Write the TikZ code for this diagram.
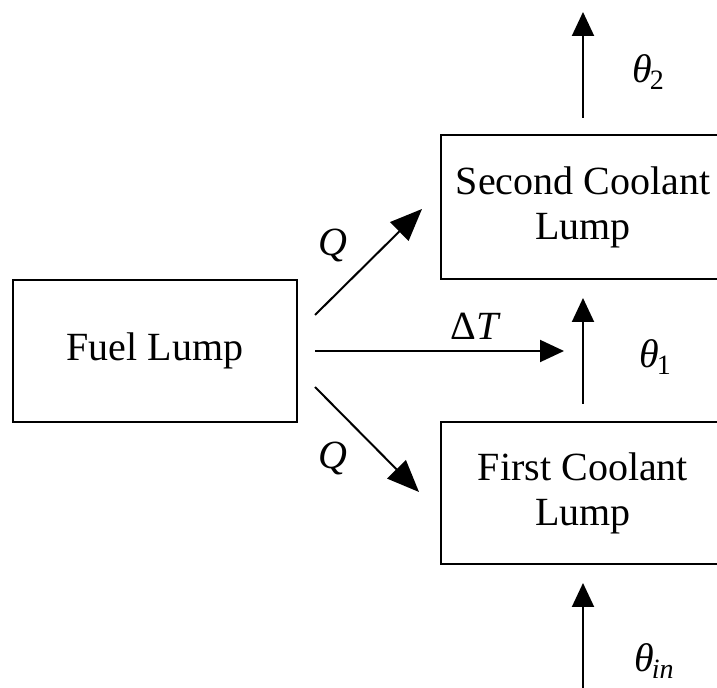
\documentclass[tikz,border=0pt]{standalone}
\usepackage{fontspec}
\setmainfont{Liberation Serif}
\usetikzlibrary{arrows.meta}
\tikzset{
  lump/.style={draw, line width=1pt, rectangle, inner sep=0pt, align=center,
    font=\fontsize{20}{22.5}\selectfont},
  lbl/.style={inner sep=0pt, font=\fontsize{20}{22.5}\selectfont},
  flow/.style={line width=1pt, -{Triangle[length=12pt,width=11pt]}},
  heat/.style={line width=1pt, -{Triangle[length=16pt,width=13pt]}},
}
\newcommand{\sth}{\textit{θ}}
\begin{document}
\begin{tikzpicture}[x=0.5pt,y=-0.5pt]
\useasboundingbox (0,0) rectangle (717,688);
\clip (0,0) rectangle (717,688);
\node[lump, minimum width=142pt, minimum height=71pt] (fuel) at (155,351) {Fuel Lump};
\node[lump, minimum width=142pt, minimum height=72pt] (second) at (583,207) {Second Coolant\\Lump};
\node[lump, minimum width=142pt, minimum height=71pt] (first) at (583,493) {First Coolant\\Lump};
% coordinates
\coordinate (upS) at (315,315);
\coordinate (upE) at (422,209);
\coordinate (dnS) at (315,387);
\coordinate (dnE) at (419,492);
\coordinate (hS) at (315,351);
\coordinate (hE) at (564,351);
\coordinate (topS) at (583,118);
\coordinate (topE) at (583,12);
\coordinate (midS) at (583,404);
\coordinate (midE) at (583,298);
\coordinate (botS) at (583,690);
\coordinate (botE) at (583,583);
\draw[heat] (upS) -- (upE);
\draw[heat] (dnS) -- (dnE);
\draw[flow] (hS) -- (hE);
\draw[flow] (topS) -- (topE);
\draw[flow] (midS) -- (midE);
\draw[flow] (botS) -- (botE);
% labels
\node[lbl] (q1) at (333,246) {\textit{Q}};
\node[lbl] (q2) at (333,459) {\textit{Q}};
\node[lbl] (dt) at (476,326) {Δ\textit{T}};
\node[lbl] (t2) at (648,72) {\sth\kern-1pt\raisebox{-0.35ex}{\fontsize{14}{16}\selectfont 2}};
\node[lbl] (t1) at (655,357) {\sth\kern-1pt\raisebox{-0.35ex}{\fontsize{14}{16}\selectfont 1}};
\node[lbl] (tin) at (654,661) {\sth\kern-1pt\raisebox{-0.35ex}{\fontsize{14}{16}\selectfont\textit{in}}};
\end{tikzpicture}
\end{document}
